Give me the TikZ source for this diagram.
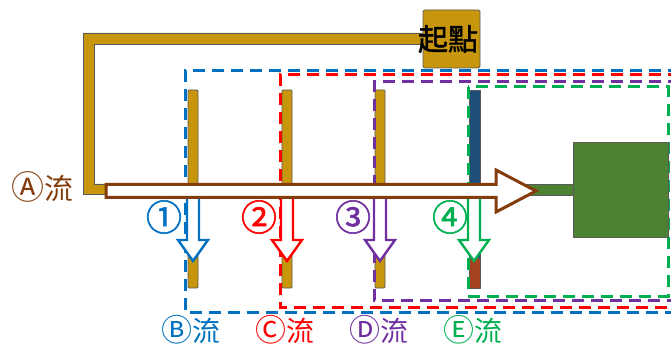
\documentclass[tikz,border=0pt]{standalone}
\usepackage{fontspec}
\newfontfamily\cjk{Noto Sans CJK TC}
\newfontfamily\cjkb[FakeBold=1.5]{Noto Sans CJK TC}
\definecolor{gold}{HTML}{C8960C}
\definecolor{edge}{HTML}{5A5A5A}
\definecolor{cblue}{HTML}{0070C0}
\definecolor{cred}{HTML}{FF0000}
\definecolor{cpurple}{HTML}{7030A0}
\definecolor{cgreen}{HTML}{00B050}
\definecolor{brownc}{HTML}{843C0C}
\definecolor{barblue}{HTML}{1F4E79}
\definecolor{barred}{HTML}{A5421F}
\definecolor{blockgreen}{HTML}{4E8233}
\tikzset{
  goldpart/.style={fill=gold,draw=edge,line width=0.8pt},
  finbar/.style={fill=gold,draw=edge,line width=0.8pt,rounded corners=1pt},
  zone/.style={line width=3pt,dash pattern=on 12pt off 7pt},
  downarrow/.style={fill=white,line width=2.4pt,line join=miter},
  lbl/.style={font=\cjk\fontsize{29}{31}\selectfont,inner sep=0pt},
  lblb/.style={font=\cjk\fontsize{28}{30}\selectfont,inner sep=0pt},
  num/.style={font=\cjkb\fontsize{36}{38}\selectfont,inner sep=0pt},
}
\newcommand{\encl}[1]{{\fontsize{33}{33}\selectfont #1}}
\newcommand{\enclb}[1]{{\fontsize{31}{31}\selectfont #1}}
\begin{document}
\begin{tikzpicture}[x=1pt,y=-1pt]
\useasboundingbox (0,0) rectangle (671,347);
\begin{scope}
\clip (0,0) rectangle (671,347);
% gold frame
\path[goldpart] (425,33) -- (83,33) -- (83,194) -- (112,194) -- (112,184) -- (94,184) -- (94,44) -- (425,44) -- cycle;
% fins
\path[finbar] (188,90) rectangle (198,288);
\path[finbar] (282,90) rectangle (292,288);
\path[finbar] (375,90) rectangle (385,288);
\path[fill=barred,draw=edge,line width=0.8pt] (469,240) rectangle (480,288);
\path[fill=barblue,draw=edge,line width=0.8pt] (469,90) rectangle (480,258);
% dashed zones
\draw[zone,cblue] (680,71) -- (185,71) -- (185,312) -- (680,312);
\draw[zone,cred] (680,75) -- (280,75) -- (280,307) -- (680,307);
\draw[zone,cpurple] (680,82) -- (374,82) -- (374,300) -- (680,300);
\draw[zone,cgreen] (468,87) rectangle (668,296);
% green block
\node[draw=edge,fill=blockgreen,line width=0.8pt,minimum width=56pt,minimum height=11pt,inner sep=0pt] (link) at (546,190) {};
\node[draw=edge,fill=blockgreen,line width=0.8pt,minimum width=95pt,minimum height=95pt,inner sep=0pt] (block) at (620.5,189.5) {};
% down arrows
\draw[downarrow,draw=cblue] (187,196) -- (187,240) -- (178,240) -- (193,261) -- (208,240) -- (199,240) -- (199,196);
\draw[downarrow,draw=cred] (281,196) -- (281,240) -- (272,240) -- (287,261) -- (302,240) -- (293,240) -- (293,196);
\draw[downarrow,draw=cpurple] (374,196) -- (374,240) -- (365,240) -- (380,261) -- (395,240) -- (386,240) -- (386,196);
\draw[downarrow,draw=cgreen] (468,196) -- (468,240) -- (459,240) -- (474,261) -- (489,240) -- (480,240) -- (480,196);
% main arrow
\draw[fill=white,draw=brownc,line width=3pt,line join=miter] (106,184.5) -- (496,184.5) -- (496,170) -- (536,191) -- (496,212) -- (496,197.5) -- (106,197.5) -- cycle;
% start box
\node[goldpart,rounded corners=1.5pt,minimum width=57pt,minimum height=58pt,inner sep=0pt] (start) at (451.5,39) {};
\node[inner sep=0pt,font=\cjkb\fontsize{30}{32}\selectfont,text=black] (starttxt) at (448,39) {起點};
% labels
\node[lbl,text=brownc] (la) at (42,187) {\encl{Ⓐ}流};
\node[lblb,text=cblue] (lb) at (191,330) {\enclb{Ⓑ}流};
\node[lblb,text=cred] (lc) at (285,330) {\enclb{Ⓒ}流};
\node[lblb,text=cpurple] (ld) at (379,330) {\enclb{Ⓓ}流};
\node[lblb,text=cgreen] (le) at (473,330) {\enclb{Ⓔ}流};
\node[num,text=cblue] (n1) at (164,217) {①};
\node[num,text=cred] (n2) at (259,217) {②};
\node[num,text=cpurple] (n3) at (353,217) {③};
\node[num,text=cgreen] (n4) at (450,217) {④};
\end{scope}
\end{tikzpicture}
\end{document}
